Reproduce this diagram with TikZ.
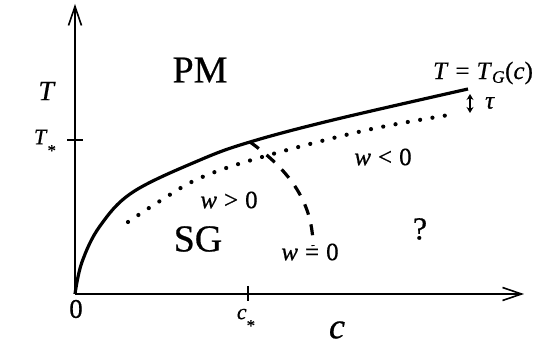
\documentclass[tikz,border=0pt]{standalone}
\usepackage{fontspec}
\setmainfont{Liberation Serif}[FakeBold=0.6]
\usetikzlibrary{arrows.meta}
\newcommand\vi[1]{\textit{#1}}
\newcommand\gapsp{\hspace{0.28em}}
\newcommand\lowstar{\raisebox{-12pt}{\fontsize{17}{17}\selectfont *}}
\begin{document}
\begin{tikzpicture}[x=1pt,y=-1pt,
  lbl/.style={inner sep=0pt, font=\fontsize{25}{28}\selectfont},
  small/.style={inner sep=0pt, font=\fontsize{22}{24}\selectfont},
  big/.style={inner sep=0pt, font=\fontsize{38}{40}\selectfont},
  axis/.style={line width=1.6pt, -{Straight Barb[length=19pt,width=13pt,line width=1.6pt]}},
  tick/.style={line width=1.6pt},
  solidc/.style={line width=3.2pt},
  dotc/.style={line width=4.2pt, line cap=round, dash pattern=on 0pt off 12.5pt},
  dashc/.style={line width=3.2pt, dash pattern=on 11pt off 10pt}]
\useasboundingbox (0,0) rectangle (536,352);
% axes
\coordinate (O) at (75,294);
\coordinate (ytop) at (75,4);
\coordinate (xend) at (524,294);
\draw[axis] (O) -- (ytop);
\draw[axis] (O) -- (xend);
% ticks
\coordinate (ty1) at (67,140); \coordinate (ty2) at (83,140);
\draw[tick] (ty1) -- (ty2);
\coordinate (tx1) at (248,286); \coordinate (tx2) at (248,301);
\draw[tick] (tx1) -- (tx2);
% labels on axes
\node[lbl, font=\fontsize{28}{30}\selectfont] (Tlab) at (47,91) {\vi{T}};
\node[small] (Tstar) at (45,143) {\vi{T}\lowstar};
\node[lbl, font=\fontsize{27}{30}\selectfont] (zero) at (76,309) {0};
\node[small] (cstar) at (246,320) {\vi{c}\lowstar};
\node[lbl, font=\fontsize{36}{40}\selectfont] (clab) at (337,330) {\vi{c}};
% solid line T_G(c)
\draw[solidc] plot[smooth, tension=0.6] coordinates {(75,294) (82,262) (100,226) (133,192) (200,160) (250,142) (333,120) (468,89)};
\coordinate (dashstart) at (250,142);
% dotted line
\draw[dotc] plot[smooth, tension=0.6] coordinates {(128,222) (160,201) (200,178) (262,157) (367,130) (455,114)};
% dashed line w=0
\coordinate (dashend) at (313,246);
\draw[dashc] (dashstart) .. controls (292,172) and (313,205) .. (dashend);
% tau arrow
\coordinate (ta) at (470,94); \coordinate (tb) at (470,113);
\draw[line width=1.3pt, {Stealth[length=6pt,width=7pt]}-{Stealth[length=6pt,width=7pt]}] (ta) -- (tb);
\node[lbl] (tau) at (490,103) {\textit{τ}};
% region labels
\node[big] (PM) at (200,70) {PM};
\node[big] (SG) at (198,239) {SG};
\node[inner sep=0pt, font=\fontsize{32}{34}\selectfont] (q) at (420,229) {?};
\node[lbl] (TG) at (483,73) {\vi{T}\gapsp=\gapsp\vi{T}\textsubscript{\vi{G}}(\vi{c})};
\node[lbl] (wneg) at (383,157) {\vi{w}\gapsp<\gapsp0};
\node[lbl] (wpos) at (229,200) {\vi{w}\gapsp>\gapsp0};
\node[lbl] (wzero) at (310,252) {\vi{w}\gapsp=\gapsp0};
\end{tikzpicture}
\end{document}
